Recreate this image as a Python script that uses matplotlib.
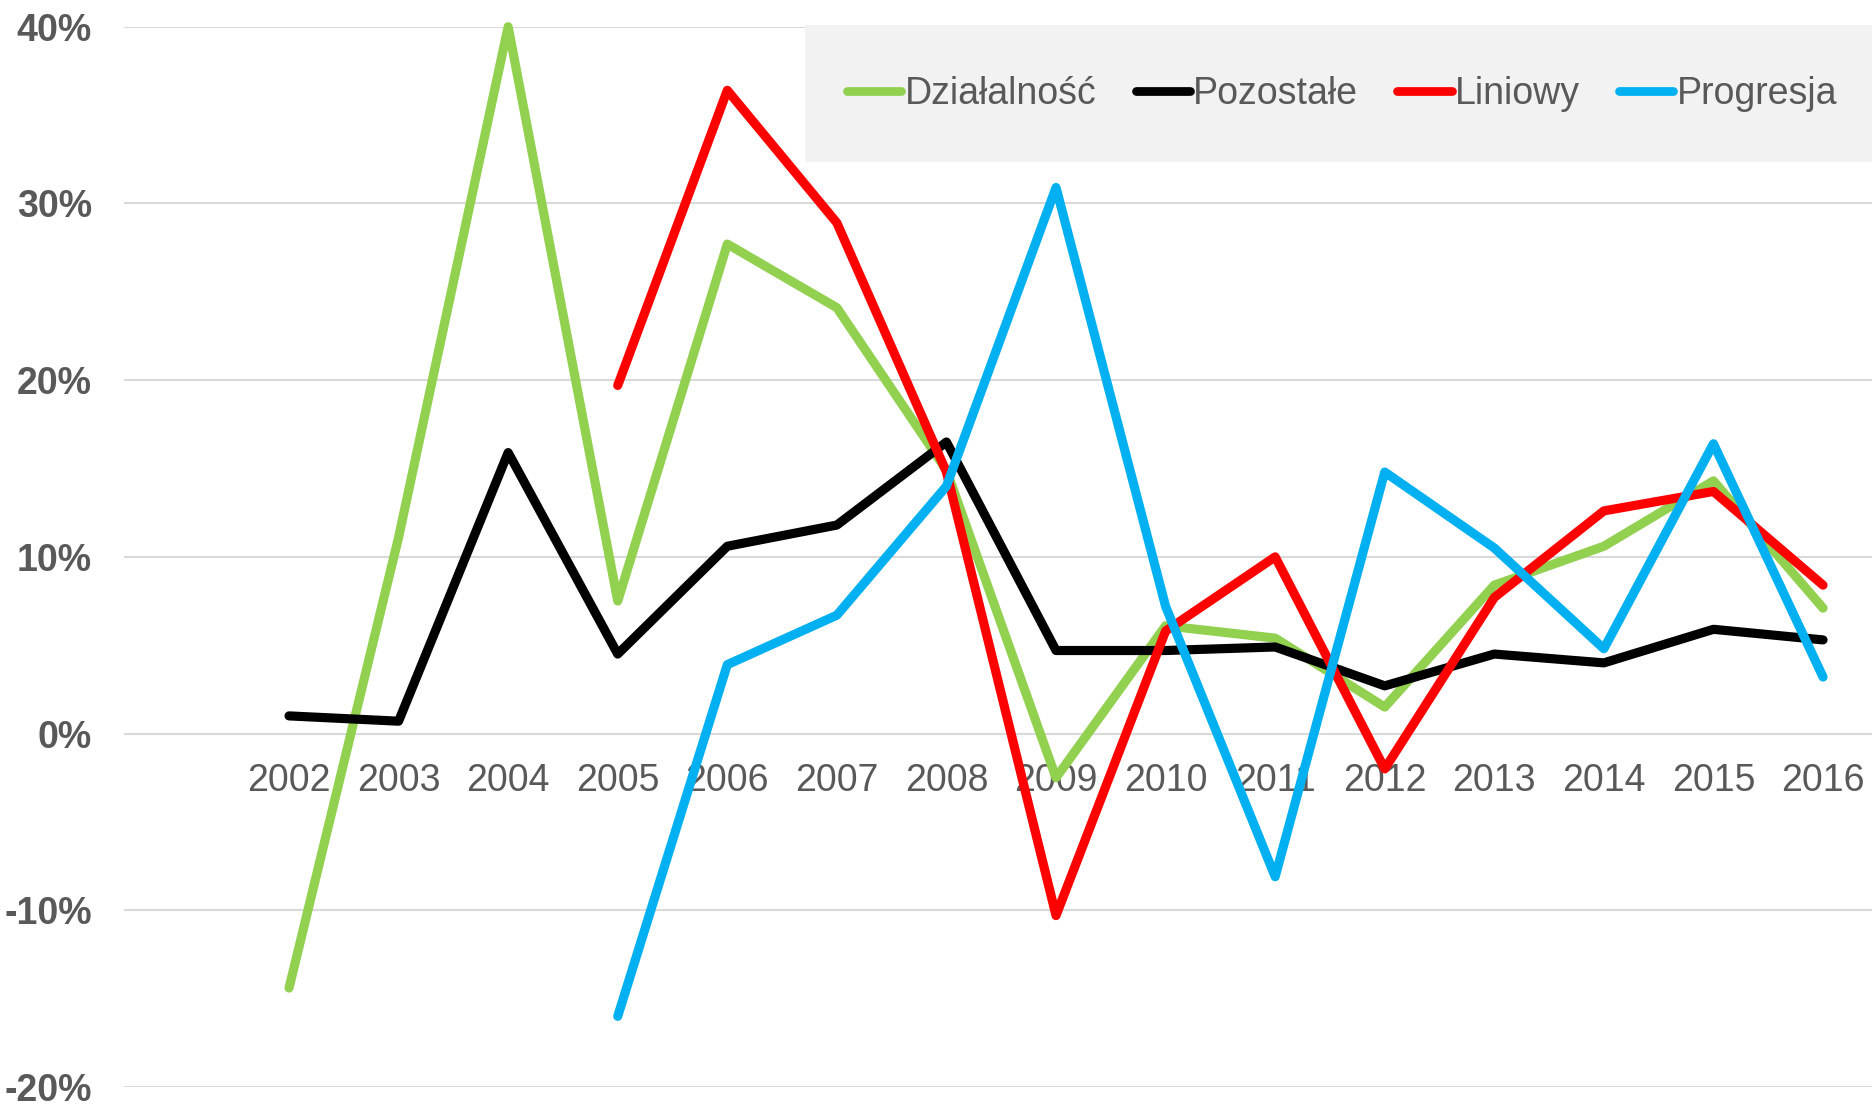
import numpy as np
import matplotlib
matplotlib.use('Agg')
import matplotlib.pyplot as plt
from matplotlib.patches import Rectangle
from matplotlib.ticker import FuncFormatter

# Data (percent)
years = list(range(2002, 2017))
dzialalnosc = [-14.4, 11.1, 40.0, 7.5, 27.7, 24.1, 14.9, -2.5, 6.1, 5.4, 1.5, 8.4, 10.6, 14.3, 7.1]
pozostale = [1.0, 0.7, 15.9, 4.5, 10.6, 11.8, 16.5, 4.7, 4.7, 4.9, 2.7, 4.5, 4.0, 5.9, 5.3]
liniowy = [np.nan, np.nan, np.nan, 19.7, 36.4, 28.9, 14.8, -10.3, 5.8, 10.0, -2.0, 7.7, 12.6, 13.7, 8.4]
progresja = [np.nan, np.nan, np.nan, -16.0, 3.9, 6.7, 14.0, 30.9, 7.2, -8.1, 14.8, 10.5, 4.8, 16.4, 3.2]

series = [
    ("Działalność", dzialalnosc, "#92D050"),
    ("Pozostałe", pozostale, "#000000"),
    ("Liniowy", liniowy, "#FF0000"),
    ("Progresja", progresja, "#00B0F0"),
]

W, H = 1872, 1104
text_color = "#595959"
fs = 27
plt.rcParams['font.family'] = ['Liberation Sans', 'DejaVu Sans']

fig = plt.figure(figsize=(W / 100, H / 100), dpi=100)
ax = fig.add_axes([124 / W, 1 - 1087 / H, (W - 124) / W, (1087 - 26.7) / H])

for name, vals, color in series:
    ax.plot(years, vals, color=color, lw=6.6, label=name, clip_on=False,
            solid_capstyle='round', solid_joinstyle='round')

ax.set_xlim(2000.494, 2016.447)
ax.set_ylim(-20, 40)
ax.set_yticks(np.arange(-20, 41, 10))
ax.yaxis.set_major_formatter(FuncFormatter(lambda v, p: f"{v:.0f}%"))
ax.grid(axis='y', color='#D9D9D9', lw=1.5)
ax.set_axisbelow(True)
for s in ax.spines.values():
    s.set_visible(False)

# category labels sit under the zero line
ax.spines['bottom'].set_position(('data', 0))
ax.set_xticks(years)
ax.set_xticklabels([str(y) for y in years])
ax.tick_params(axis='x', length=0, pad=21.5, labelsize=fs, labelcolor=text_color)
ax.tick_params(axis='y', length=0, pad=23, labelsize=fs, labelcolor=text_color)
for lab in ax.get_yticklabels():
    lab.set_fontweight('bold')

# legend box
fig.patches.append(Rectangle((805 / W, 1 - 162 / H), (W - 805) / W, (162 - 25) / H,
                             transform=fig.transFigure, facecolor='#F2F2F2',
                             edgecolor='none', zorder=0))
leg = fig.legend(loc='center', bbox_to_anchor=(1342 / W, 1 - 94.5 / H), ncol=4,
                 frameon=False, fontsize=fs, handlelength=1.45, handletextpad=0.08,
                 columnspacing=1.05, labelcolor=text_color)
for h in leg.get_lines():
    h.set_linewidth(6.3)
    h.set_solid_capstyle('round')

fig.savefig("out.png", dpi=100)
